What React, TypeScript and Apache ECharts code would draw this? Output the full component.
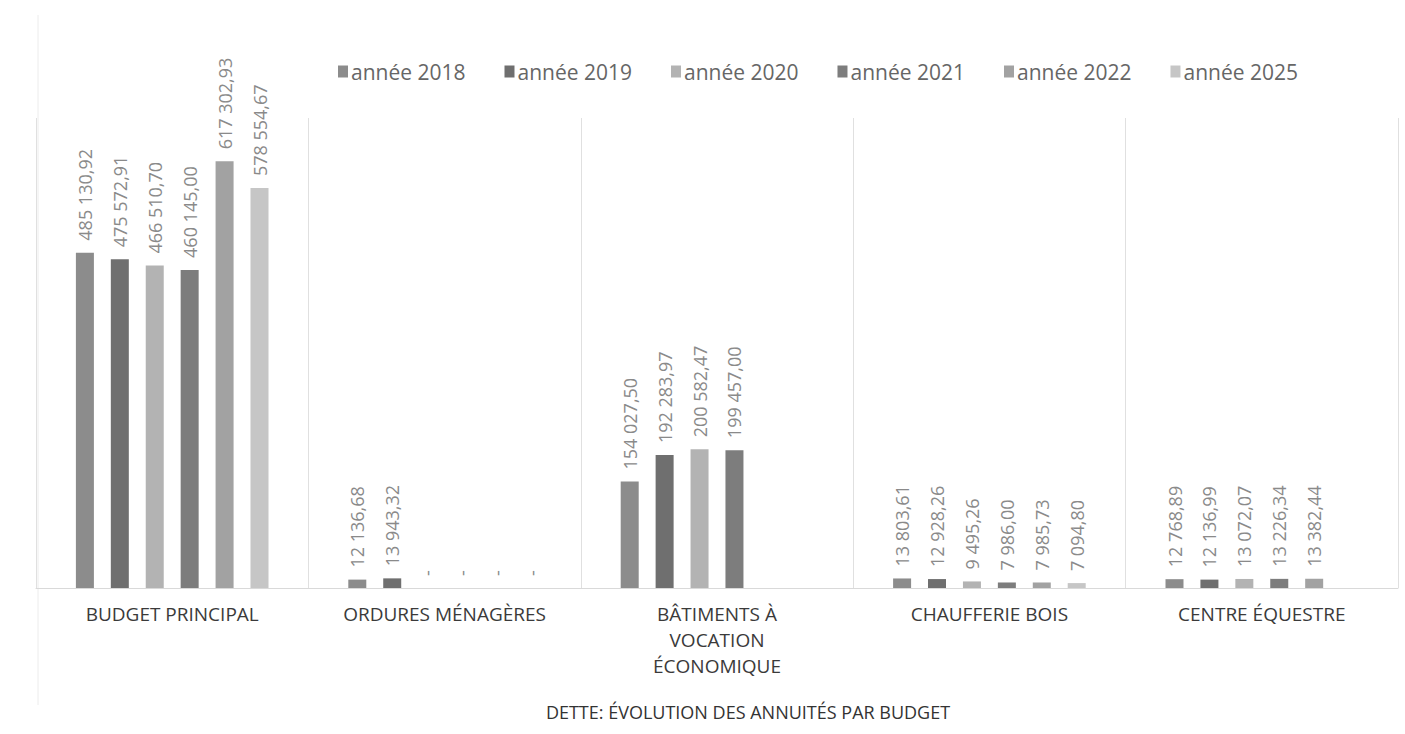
import React, { useEffect, useRef } from "react";
import * as echarts from "echarts";

const categories = [
  "BUDGET PRINCIPAL",
  "ORDURES MÉNAGÈRES",
  "BÂTIMENTS À\nVOCATION\nÉCONOMIQUE",
  "CHAUFFERIE BOIS",
  "CENTRE ÉQUESTRE",
];

const seriesNames = ["année 2018", "année 2019", "année 2020", "année 2021", "année 2022", "année 2025"];

const y2018 = [485130.92, 12136.68, 154027.5, 13803.61, 12768.89];
const y2019 = [475572.91, 13943.32, 192283.97, 12928.26, 12136.99];
const y2020 = [466510.7, 0, 200582.47, 9495.26, 13072.07];
const y2021 = [460145.0, 0, 199457.0, 7986.0, 13226.34];
const y2022 = [617302.93, 0, null, 7985.73, 13382.44];
const y2025 = [578554.67, 0, null, 7094.8, null];

const seriesValues = [y2018, y2019, y2020, y2021, y2022, y2025];
const colors = ["#8c8c8c", "#6f6f6f", "#b3b3b3", "#7d7d7d", "#a2a2a2", "#c6c6c6"];

const fmt = (v: number) => {
  if (!v) return "-";
  const [i, d] = v.toFixed(2).split(".");
  return i.replace(/\B(?=(\d{3})+(?!\d))/g, " ") + "," + d;
};

export default function App() {
  const ref = useRef<HTMLDivElement>(null);
  useEffect(() => {
    if (!ref.current) return;
    const chart = echarts.init(ref.current, null, { renderer: "svg" });
    const font = "'Open Sans', sans-serif";
    chart.setOption({
      animation: false,
      backgroundColor: "#ffffff",
      textStyle: { fontFamily: font },
      title: {
        text: "DETTE: ÉVOLUTION DES ANNUITÉS PAR BUDGET",
        left: 743,
        top: 698,
        textAlign: "center",
        textStyle: { fontFamily: font, fontSize: 18, fontWeight: "normal", color: "#333" },
      },
      legend: {
        top: 56,
        left: 333,
        itemWidth: 10,
        itemHeight: 12,
        itemGap: 39,
        icon: "rect",
        textStyle: { fontFamily: font, fontSize: 21, color: "#666", padding: [0, 0, 0, -2] },
        data: seriesNames,
      },
      grid: { left: 36, right: 7, top: 118, bottom: 146 },
      xAxis: {
        type: "category",
        data: categories,
        axisLine: { show: true, lineStyle: { color: "#d9d9d9" } },
        axisTick: { show: false },
        splitLine: { show: true, lineStyle: { color: "#e0e0e0" } },
        axisLabel: {
          fontFamily: font,
          fontSize: 19,
          color: "#3a3a3a",
          margin: 13,
          lineHeight: 26,
          interval: 0,
        },
      },
      yAxis: {
        type: "value",
        min: 0,
        max: 680000,
        show: false,
        splitLine: { show: false },
      },
      graphic: [
        { type: "line", shape: { x1: 38, y1: 15, x2: 38, y2: 705 }, style: { stroke: "#ececec", lineWidth: 1 } },
      ],
      series: seriesNames.map((name, i) => ({
        name,
        type: "bar",
        data: seriesValues[i],
        barWidth: 18,
        barGap: "94%",
        itemStyle: { color: colors[i] },
        label: {
          show: true,
          position: "top",
          rotate: 90,
          align: "left",
          verticalAlign: "middle",
          distance: 12,
          fontFamily: font,
          fontSize: 18,
          color: "#8a8a8a",
          formatter: (p: any) => (p.value === null || p.value === undefined ? "" : fmt(p.value)),
        },
      })),
    });
    return () => chart.dispose();
  }, []);
  return <div ref={ref} style={{ position: "fixed", left: 0, top: 0, width: 1405, height: 734 }} />;
}
